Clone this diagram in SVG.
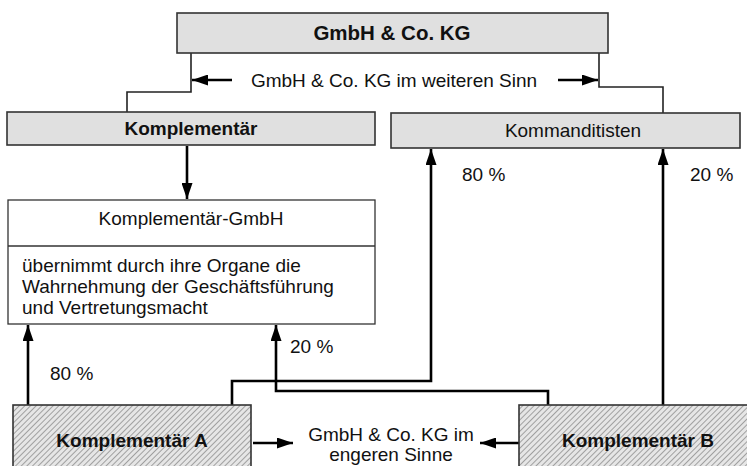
<svg xmlns="http://www.w3.org/2000/svg" width="747" height="466" viewBox="0 0 747 466">
  <style>
    text { font-family: "Liberation Sans", Arial, sans-serif; font-size: 19px; fill: #111; }
    .b { font-weight: bold; }
    .c { text-anchor: middle; }
    .grey { fill: #e0e0e0; stroke: #333; stroke-width: 1.6; }
    .plain { fill: #fff; stroke: #333; stroke-width: 1.3; }
    .hatch { fill: url(#hatch); stroke: #333; stroke-width: 1.6; }
    .thin { fill: none; stroke: #222; stroke-width: 1.6; }
    .thick { fill: none; stroke: #000; stroke-width: 2.6; }
  </style>
  <defs>
    <pattern id="hatch" patternUnits="userSpaceOnUse" width="4" height="4" patternTransform="rotate(45)">
      <rect width="4" height="4" fill="#e6e6e6"/>
      <line x1="0" y1="0" x2="0" y2="4" stroke="#5a5a5a" stroke-width="1"/>
    </pattern>
    <marker id="arr" markerUnits="userSpaceOnUse" markerWidth="16" markerHeight="11" refX="16" refY="5.5" orient="auto">
      <path d="M0,0 L16,5.5 L0,11 z" fill="#000"/>
    </marker>
  </defs>

  <!-- connectors -->
  <g id="connectors">
    <polyline class="thin" points="191,53 191,92 127,92 127,112"/>
    <polyline class="thin" points="599,53 599,87 663,87 663,113"/>
    <line class="thick" x1="232" y1="80" x2="192" y2="80" marker-end="url(#arr)"/>
    <line class="thick" x1="558" y1="80" x2="598" y2="80" marker-end="url(#arr)"/>
    <line class="thick" x1="187" y1="146" x2="187" y2="199" marker-end="url(#arr)"/>
    <line class="thick" x1="28" y1="405" x2="28" y2="325" marker-end="url(#arr)"/>
    <polyline class="thick" points="232,405 232,381 431,381 431,149" marker-end="url(#arr)"/>
    <polyline class="thick" points="548,405 548,391 276,391 276,325" marker-end="url(#arr)"/>
    <line class="thick" x1="663" y1="405" x2="663" y2="149" marker-end="url(#arr)"/>
    <line class="thick" x1="253" y1="443" x2="293" y2="443" marker-end="url(#arr)"/>
    <line class="thick" x1="519" y1="443" x2="480" y2="443" marker-end="url(#arr)"/>
    <text x="394" y="87" class="c">GmbH &amp; Co. KG im weiteren Sinn</text>
    <text x="462" y="181">80 %</text>
    <text x="690" y="181">20 %</text>
    <text x="50" y="380">80 %</text>
    <text x="290" y="353">20 %</text>
    <text x="391" y="441" class="c">GmbH &amp; Co. KG im</text>
    <text x="391" y="461" class="c">engeren Sinne</text>
  </g>

  <g id="gmbh-co-kg">
    <rect class="grey" x="177" y="13" width="431" height="40"/>
    <text x="392" y="40" class="c b" style="font-size:20.5px">GmbH &amp; Co. KG</text>
  </g>

  <g id="komplementaer">
    <rect class="grey" x="7" y="112" width="368" height="33"/>
    <text x="191" y="135" class="c b">Komplementär</text>
  </g>

  <g id="kommanditisten">
    <rect class="grey" x="391" y="113" width="349" height="35"/>
    <text x="573" y="137" class="c">Kommanditisten</text>
  </g>

  <g id="komplementaer-gmbh">
    <rect class="plain" x="8" y="200" width="367" height="124"/>
    <line x1="8" y1="246" x2="375" y2="246" stroke="#333" stroke-width="1.3"/>
    <text x="191" y="225" class="c">Komplementär-GmbH</text>
    <text x="22" y="272">übernimmt durch ihre Organe die</text>
    <text x="22" y="293">Wahrnehmung der Geschäftsführung</text>
    <text x="22" y="314">und Vertretungsmacht</text>
  </g>

  <g id="komplementaer-a">
    <rect class="hatch" x="13" y="405" width="238" height="70"/>
    <text x="132" y="447" class="c b">Komplementär A</text>
  </g>

  <g id="komplementaer-b">
    <rect class="hatch" x="519" y="405" width="240" height="70"/>
    <text x="638" y="447" class="c b">Komplementär B</text>
  </g>
</svg>
